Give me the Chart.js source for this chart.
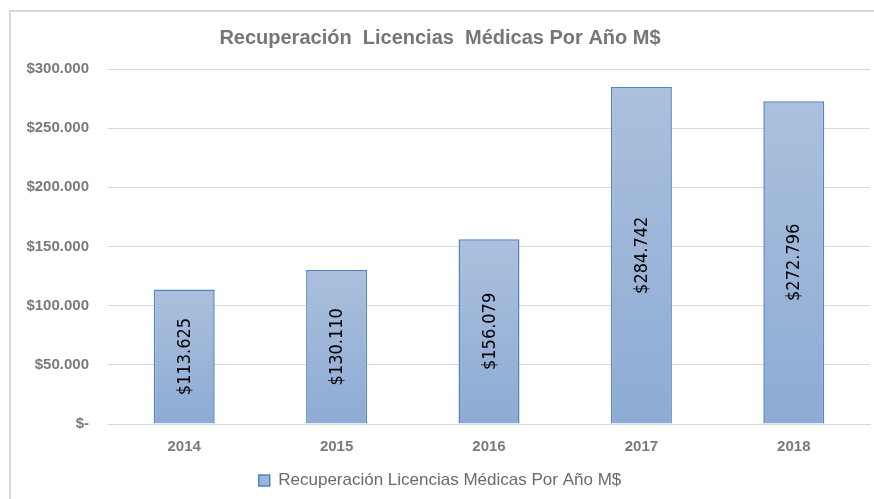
<!DOCTYPE html>
<html>
<head>
<meta charset="utf-8">
<script src="https://cdn.jsdelivr.net/npm/chart.js@4.4.1/dist/chart.umd.min.js"></script>
<style>
  html, body { margin: 0; padding: 0; background: #ffffff; overflow: hidden; }
  #wrap { position: relative; width: 874px; height: 499px; }
  #frame { position: absolute; left: 9px; top: 10px; width: 900px; height: 520px;
           border-top: 2px solid #d9d9d9; border-left: 2px solid #d9d9d9; box-sizing: border-box; pointer-events: none; }
  canvas { position: absolute; left: 0; top: 0; }
</style>
</head>
<body>
<div id="wrap">
  <canvas id="c" width="874" height="499"></canvas>
  <div id="frame"></div>
</div>
<script>
const categories = ['2014', '2015', '2016', '2017', '2018'];
const values = [113625, 130110, 156079, 284742, 272796];
const seriesName = 'Recuperación Licencias Médicas Por Año M$';
const chartTitle = 'Recuperación  Licencias  Médicas Por Año M$';
const yTicks = [0, 50000, 100000, 150000, 200000, 250000, 300000];

function fmt(n) {
  if (n === 0) return '$-';
  return '$' + String(Math.round(n)).replace(/\B(?=(\d{3})+(?!\d))/g, '.');
}

const valueLabels = {
  id: 'valueLabels',
  afterDatasetsDraw(chart) {
    const ctx = chart.ctx;
    const meta = chart.getDatasetMeta(0);
    ctx.save();
    ctx.fillStyle = '#000000';
    ctx.font = '18px "Liberation Sans Narrow", "DejaVu Sans Condensed", sans-serif';
    ctx.textAlign = 'center';
    ctx.textBaseline = 'middle';
    meta.data.forEach((bar, i) => {
      const p = bar.getProps(['x', 'y', 'base'], true);
      ctx.save();
      ctx.translate(p.x, (p.y + p.base) / 2);
      ctx.rotate(-Math.PI / 2);
      ctx.fillText(fmt(values[i]), 0, 1);
      ctx.restore();
    });
    ctx.restore();
  }
};

function barFill(context) {
  const chart = context.chart;
  if (!chart.chartArea || !chart.scales.y || context.raw === undefined) return '#9db5d8';
  const y = chart.scales.y;
  const top = y.getPixelForValue(context.raw);
  const bot = y.getPixelForValue(0);
  if (!isFinite(top) || !isFinite(bot) || top === bot) return '#9db5d8';
  const g = chart.ctx.createLinearGradient(0, top, 0, bot);
  g.addColorStop(0, '#abc0dd');
  g.addColorStop(1, '#8dabd4');
  return g;
}

new Chart(document.getElementById('c'), {
  type: 'bar',
  data: {
    labels: categories,
    datasets: [{
      label: seriesName,
      data: values,
      backgroundColor: barFill,
      borderColor: '#5283be',
      borderWidth: 1.5,
      categoryPercentage: 1.0,
      barPercentage: 0.4
    }]
  },
  options: {
    responsive: false,
    animation: false,
    layout: { padding: { left: 10, right: 4, top: 10, bottom: 0 } },
    plugins: {
      title: {
        display: true,
        text: chartTitle,
        color: '#767676',
        font: { family: '"Liberation Sans", Arial, sans-serif', size: 20, weight: 'bold', lineHeight: 1.2 },
        padding: { top: 16, bottom: 19 }
      },
      legend: {
        display: true,
        position: 'bottom',
        labels: {
          color: '#6a6a6a',
          font: { family: '"Liberation Sans", Arial, sans-serif', size: 17 },
          boxWidth: 11,
          boxHeight: 11,
          padding: 10,
          generateLabels(chart) {
            return [{
              text: seriesName,
              fillStyle: '#9db5d8',
              strokeStyle: '#5283be',
              lineWidth: 1.5,
              datasetIndex: 0,
              fontColor: '#6a6a6a'
            }];
          }
        }
      },
      tooltip: { enabled: false }
    },
    scales: {
      x: {
        afterFit(scale) { scale.height = 38; },
        grid: { display: false, drawTicks: false },
        border: { display: true, color: '#d9d9d9', width: 1 },
        ticks: {
          color: '#7a7a7a',
          font: { family: '"Liberation Sans", Arial, sans-serif', size: 15, weight: 'bold' },
          padding: 14
        }
      },
      y: {
        min: 0,
        max: 300000,
        afterFit(scale) { scale.width = 98; },
        afterBuildTicks(scale) { scale.ticks = yTicks.map(v => ({ value: v })); },
        grid: { color: '#d9d9d9', lineWidth: 1, drawTicks: false },
        border: { display: false },
        ticks: {
          color: '#7a7a7a',
          font: { family: '"Liberation Sans", Arial, sans-serif', size: 15, weight: 'bold' },
          padding: 19,
          callback: (v) => fmt(v)
        }
      }
    }
  },
  plugins: [valueLabels]
});
</script>
</body>
</html>
